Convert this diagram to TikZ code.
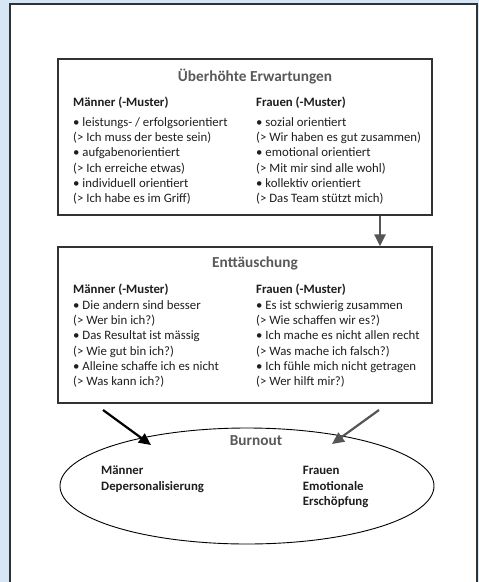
\documentclass[tikz,border=0pt]{standalone}
\usepackage{fontspec}
\setmainfont{Carlito}
\usetikzlibrary{arrows.meta,shapes.geometric}
\definecolor{bgblue}{RGB}{214,230,245}
\definecolor{frame}{RGB}{50,50,50}
\definecolor{titlegray}{RGB}{89,89,89}
\definecolor{txt}{RGB}{30,30,30}
\definecolor{arrgray}{RGB}{85,85,85}
\tikzset{
  box/.style={draw=frame, line width=1.3pt, rectangle, minimum width=374pt, minimum height=156pt, inner sep=0pt},
  title/.style={anchor=base, font=\fontsize{15.3}{18}\selectfont\bfseries, text=titlegray, inner sep=0pt},
  head/.style={anchor=base west, font=\fontsize{12.8}{15}\selectfont\bfseries, text=txt, inner sep=0pt},
  body/.style={anchor=base west, font=\fontsize{12.8}{15}\selectfont, text=txt, inner sep=0pt},
  arr/.style={line width=2.2pt, -{Triangle[length=12pt,width=11pt]}},
}
\begin{document}
\begin{tikzpicture}[x=1pt,y=-1pt]
\useasboundingbox (0,0) rectangle (479,582);
\fill[bgblue] (0,0) rectangle (479,582);
\fill[white] (10,4) rectangle (477,582);
\draw[frame, line width=1.8pt] (10,583) -- (10,4) -- (477,4) -- (477,583);

% Box 1
\node[box] (box1) at (245,137) {};
\node[title] (t1) at (255,81.5) {Überhöhte Erwartungen};
\node[head] (h1m) at (73,106.5) {Männer (-Muster)};
\node[head] (h1f) at (256,106.5) {Frauen (-Muster)};
\foreach \t [count=\i from 0] in {• leistungs- / erfolgsorientiert, (> Ich muss der beste sein), • aufgabenorientiert, (> Ich erreiche etwas), • individuell orientiert, (> Ich habe es im Griff)}
  \node[body] (b1m\i) at (73,126.3+15.25*\i) {\t};
\foreach \t [count=\i from 0] in {• sozial orientiert, (> Wir haben es gut zusammen), • emotional orientiert, (> Mit mir sind alle wohl), • kollektiv orientiert, (> Das Team stützt mich)}
  \node[body] (b1f\i) at (256,126.3+15.25*\i) {\t};

% Box 2
\node[box] (box2) at (245,325) {};
\node[title] (t2) at (255,267) {Enttäuschung};
\node[head] (h2m) at (73,293.5) {Männer (-Muster)};
\node[head] (h2f) at (256,293.5) {Frauen (-Muster)};
\foreach \t [count=\i from 0] in {• Die andern sind besser, (> Wer bin ich?), • Das Resultat ist mässig, (> Wie gut bin ich?), • Alleine schaffe ich es nicht, (> Was kann ich?)}
  \node[body] (b2m\i) at (73,309.3+15.25*\i) {\t};
\foreach \t [count=\i from 0] in {• Es ist schwierig zusammen, (> Wie schaffen wir es?), • Ich mache es nicht allen recht, (> Was mache ich falsch?), • Ich fühle mich nicht getragen, (> Wer hilft mir?)}
  \node[body] (b2f\i) at (256,309.3+15.25*\i) {\t};

% Arrow between boxes
\coordinate (ax) at (380,0);
\draw[arr, arrgray] (box1.south -| ax) -- (box2.north -| ax);

% Burnout ellipse
\node[ellipse, draw=black, line width=0.9pt, minimum width=374pt, minimum height=116pt, inner sep=0pt] (burn) at (247,486) {};
\node[title] (t3) at (256,445.5) {Burnout};
\node[head] (bm1) at (101,474.3) {Männer};
\node[head] (bm2) at (101,490) {Depersonalisierung};
\node[head] (bf1) at (302.7,474.3) {Frauen};
\node[head] (bf2) at (302.7,490) {Emotionale};
\node[head] (bf3) at (302.7,505.7) {Erschöpfung};

% diagonal arrows
\coordinate (l0) at (103,410);
\coordinate (l1) at (151,445);
\coordinate (r0) at (379,410);
\coordinate (r1) at (332,444);
\draw[arr, black] (l0) -- (l1);
\draw[arr, arrgray] (r0) -- (r1);
\end{tikzpicture}
\end{document}
